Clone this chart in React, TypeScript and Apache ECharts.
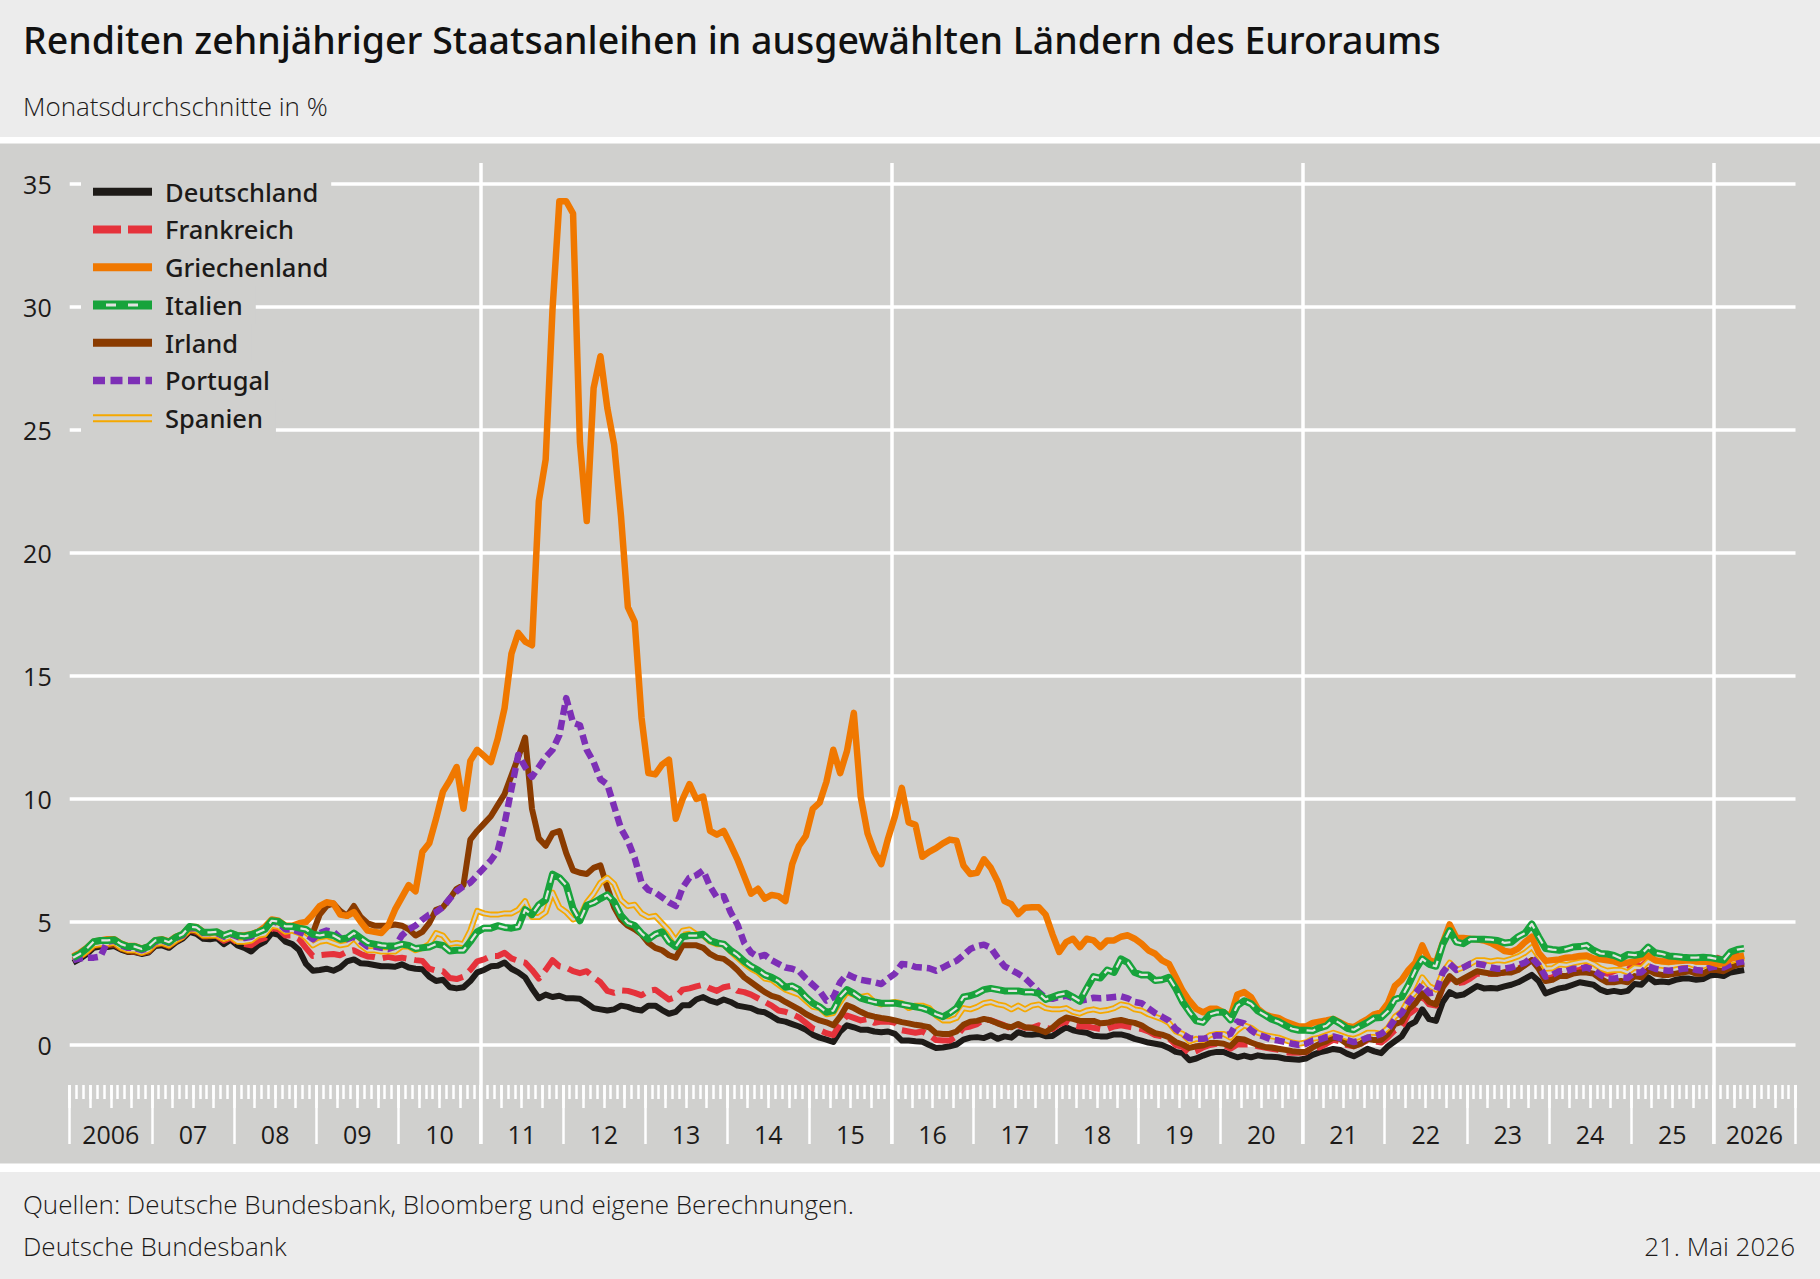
import React, { useEffect, useRef } from 'react';
import * as echarts from 'echarts';

// ---------------- DATA (monthly averages, Jan 2006 – May 2026, in %) ----------------
const yTicks = [0, 5, 10, 15, 20, 25, 30, 35];
const yearLabels = ['2006', '07', '08', '09', '10', '11', '12', '13', '14', '15', '16', '17', '18', '19', '20', '21', '22', '23', '24', '25', '2026'];
const legendNames = ['Deutschland', 'Frankreich', 'Griechenland', 'Italien', 'Irland', 'Portugal', 'Spanien'];

const deutschland = [
  3.35, 3.50, 3.70, 3.95, 4.00, 3.98, 4.02, 3.88, 3.78, 3.78, 3.70, 3.76,
  4.02, 4.05, 3.95, 4.17, 4.32, 4.60, 4.52, 4.32, 4.30, 4.35, 4.10, 4.28,
  4.05, 3.95, 3.80, 4.05, 4.20, 4.55, 4.48, 4.20, 4.10, 3.86, 3.30, 3.02,
  3.05, 3.10, 3.02, 3.15, 3.40, 3.48, 3.32, 3.30, 3.25, 3.20, 3.20, 3.18,
  3.28, 3.15, 3.10, 3.08, 2.78, 2.60, 2.65, 2.35, 2.30, 2.35, 2.60, 2.95,
  3.05, 3.20, 3.22, 3.35, 3.10, 2.95, 2.75, 2.30, 1.90, 2.05, 1.95, 2.00,
  1.90, 1.90, 1.88, 1.70, 1.50, 1.45, 1.40, 1.45, 1.60, 1.55, 1.45, 1.40,
  1.60, 1.60, 1.42, 1.27, 1.35, 1.62, 1.62, 1.85, 1.95, 1.80, 1.72, 1.85,
  1.75, 1.60, 1.55, 1.50, 1.37, 1.33, 1.17, 1.00, 0.95, 0.85, 0.75, 0.62,
  0.42, 0.30, 0.22, 0.12, 0.55, 0.80, 0.72, 0.62, 0.62, 0.55, 0.52, 0.55,
  0.45, 0.18, 0.18, 0.15, 0.13, 0.00, -0.12, -0.10, -0.05, 0.02, 0.22, 0.30,
  0.32, 0.28, 0.40, 0.25, 0.35, 0.30, 0.52, 0.43, 0.42, 0.45, 0.36, 0.37,
  0.55, 0.72, 0.60, 0.54, 0.50, 0.38, 0.35, 0.35, 0.43, 0.43, 0.36, 0.25,
  0.18, 0.10, 0.05, 0.00, -0.12, -0.28, -0.33, -0.62, -0.55, -0.43, -0.33, -0.28,
  -0.28, -0.40, -0.50, -0.43, -0.50, -0.42, -0.47, -0.48, -0.50, -0.56, -0.58, -0.60,
  -0.55, -0.40, -0.30, -0.24, -0.16, -0.20, -0.35, -0.46, -0.32, -0.15, -0.26, -0.33,
  -0.05, 0.15, 0.35, 0.80, 0.95, 1.45, 1.05, 0.98, 1.75, 2.15, 2.00, 2.05,
  2.22, 2.40, 2.30, 2.32, 2.30, 2.38, 2.45, 2.55, 2.70, 2.85, 2.60, 2.10,
  2.20, 2.30, 2.35, 2.45, 2.55, 2.50, 2.45, 2.25, 2.15, 2.20, 2.15, 2.20,
  2.48, 2.45, 2.75, 2.55, 2.58, 2.55, 2.65, 2.70, 2.70, 2.65, 2.68, 2.82,
  2.85, 2.80, 2.95, 3.00, 3.05,
];

const frankreich = [
  3.45, 3.58, 3.78, 4.02, 4.06, 4.05, 4.10, 3.92, 3.80, 3.80, 3.74, 3.80,
  4.08, 4.12, 4.02, 4.22, 4.38, 4.66, 4.60, 4.42, 4.42, 4.42, 4.24, 4.36,
  4.15, 4.10, 4.05, 4.25, 4.35, 4.75, 4.70, 4.45, 4.45, 4.30, 3.95, 3.62,
  3.65, 3.68, 3.70, 3.65, 3.80, 3.85, 3.70, 3.60, 3.58, 3.52, 3.58, 3.52,
  3.55, 3.50, 3.45, 3.42, 3.10, 3.02, 3.00, 2.72, 2.68, 2.78, 3.05, 3.40,
  3.48, 3.62, 3.62, 3.75, 3.52, 3.42, 3.35, 3.05, 2.70, 3.05, 3.45, 3.20,
  3.15, 3.00, 2.92, 3.00, 2.75, 2.55, 2.20, 2.12, 2.22, 2.20, 2.12, 2.02,
  2.20, 2.25, 2.05, 1.85, 1.95, 2.25, 2.30, 2.38, 2.45, 2.30, 2.20, 2.35,
  2.40, 2.20, 2.15, 2.05, 1.90, 1.75, 1.60, 1.40, 1.35, 1.25, 1.12, 0.90,
  0.68, 0.60, 0.48, 0.40, 0.85, 1.20, 1.10, 1.00, 1.05, 0.90, 0.95, 0.95,
  0.90, 0.60, 0.55, 0.50, 0.55, 0.40, 0.20, 0.18, 0.18, 0.35, 0.70, 0.75,
  0.85, 1.05, 1.00, 0.90, 0.80, 0.65, 0.80, 0.70, 0.70, 0.80, 0.70, 0.65,
  0.85, 0.95, 0.80, 0.75, 0.75, 0.70, 0.65, 0.65, 0.75, 0.80, 0.75, 0.70,
  0.65, 0.55, 0.40, 0.35, 0.28, 0.00, -0.08, -0.35, -0.25, -0.10, 0.00, 0.05,
  0.00, -0.15, 0.02, 0.02, 0.02, -0.05, -0.10, -0.15, -0.20, -0.30, -0.32, -0.32,
  -0.30, -0.10, -0.10, 0.05, 0.22, 0.15, 0.00, -0.05, 0.05, 0.20, 0.15, 0.10,
  0.32, 0.60, 0.75, 1.25, 1.45, 2.00, 1.65, 1.60, 2.35, 2.70, 2.50, 2.55,
  2.70, 2.90, 2.90, 2.90, 2.90, 2.95, 3.05, 3.10, 3.25, 3.45, 3.20, 2.70,
  2.75, 2.90, 2.85, 3.00, 3.05, 3.20, 3.20, 2.95, 2.90, 3.00, 3.10, 3.05,
  3.30, 3.20, 3.45, 3.30, 3.25, 3.25, 3.35, 3.40, 3.50, 3.40, 3.45, 3.55,
  3.55, 3.45, 3.55, 3.65, 3.65,
];

const griechenland = [
  3.60, 3.75, 3.95, 4.20, 4.25, 4.30, 4.30, 4.12, 4.02, 4.02, 3.92, 4.00,
  4.25, 4.30, 4.20, 4.40, 4.50, 4.80, 4.80, 4.60, 4.55, 4.60, 4.45, 4.55,
  4.45, 4.45, 4.50, 4.60, 4.80, 5.10, 5.05, 4.85, 4.85, 4.95, 5.00, 5.30,
  5.65, 5.80, 5.75, 5.30, 5.25, 5.40, 5.00, 4.65, 4.60, 4.55, 4.85, 5.50,
  6.00, 6.50, 6.25, 7.85, 8.20, 9.20, 10.30, 10.75, 11.30, 9.60, 11.55, 12.00,
  11.75, 11.50, 12.45, 13.70, 15.90, 16.75, 16.40, 16.25, 22.10, 23.80, 29.90, 34.30,
  34.30, 33.80, 24.50, 21.30, 26.70, 28.00, 25.90, 24.40, 21.50, 17.80, 17.20, 13.30,
  11.05, 11.00, 11.40, 11.60, 9.20, 10.00, 10.60, 10.00, 10.10, 8.70, 8.55, 8.70,
  8.15, 7.55, 6.85, 6.15, 6.35, 5.95, 6.10, 6.05, 5.85, 7.35, 8.10, 8.50,
  9.60, 9.85, 10.70, 12.00, 11.05, 11.95, 13.50, 10.10, 8.60, 7.85, 7.35, 8.40,
  9.30, 10.45, 9.05, 8.95, 7.65, 7.85, 8.00, 8.20, 8.35, 8.30, 7.30, 6.95,
  7.00, 7.55, 7.20, 6.65, 5.85, 5.72, 5.32, 5.58, 5.60, 5.60, 5.30, 4.50,
  3.78, 4.18, 4.32, 3.98, 4.32, 4.25, 3.98, 4.25, 4.25, 4.40, 4.46, 4.32,
  4.12, 3.85, 3.71, 3.44, 3.30, 2.76, 2.21, 1.80, 1.47, 1.33, 1.47, 1.47,
  1.33, 1.15, 2.05, 2.15, 1.95, 1.47, 1.25, 1.15, 1.10, 0.95, 0.85, 0.75,
  0.75, 0.90, 0.95, 1.00, 1.06, 0.92, 0.78, 0.72, 0.90, 1.05, 1.25, 1.33,
  1.70, 2.40, 2.65, 3.05, 3.35, 4.05, 3.45, 3.35, 4.15, 4.90, 4.35, 4.35,
  4.32, 4.30, 4.25, 4.15, 4.00, 3.82, 3.78, 3.92, 4.18, 4.40, 3.75, 3.42,
  3.45, 3.48, 3.55, 3.57, 3.62, 3.64, 3.52, 3.48, 3.44, 3.40, 3.30, 3.35,
  3.40, 3.55, 3.64, 3.45, 3.40, 3.38, 3.40, 3.42, 3.44, 3.40, 3.38, 3.38,
  3.30, 3.32, 3.50, 3.58, 3.64,
];

const italien = [
  3.55, 3.70, 3.92, 4.20, 4.25, 4.25, 4.28, 4.10, 4.00, 4.00, 3.90, 4.00,
  4.25, 4.28, 4.18, 4.38, 4.50, 4.82, 4.78, 4.58, 4.58, 4.60, 4.45, 4.55,
  4.45, 4.42, 4.48, 4.58, 4.70, 5.05, 5.02, 4.82, 4.82, 4.75, 4.70, 4.50,
  4.45, 4.50, 4.45, 4.30, 4.35, 4.55, 4.35, 4.15, 4.10, 4.05, 4.02, 4.02,
  4.10, 4.05, 3.92, 3.95, 3.98, 4.10, 4.05, 3.82, 3.85, 3.85, 4.20, 4.60,
  4.75, 4.75, 4.85, 4.78, 4.75, 4.80, 5.50, 5.30, 5.70, 5.90, 6.95, 6.80,
  6.50, 5.55, 5.05, 5.68, 5.78, 5.95, 6.10, 5.82, 5.27, 4.96, 4.86, 4.54,
  4.30, 4.50, 4.60, 4.20, 4.00, 4.40, 4.45, 4.45, 4.50, 4.25, 4.15, 4.10,
  3.85, 3.65, 3.40, 3.20, 3.05, 2.85, 2.75, 2.60, 2.35, 2.40, 2.25, 1.95,
  1.70, 1.55, 1.33, 1.40, 1.95, 2.25, 2.10, 1.90, 1.82, 1.75, 1.70, 1.70,
  1.70, 1.65, 1.60, 1.55, 1.50, 1.40, 1.25, 1.15, 1.30, 1.50, 1.95, 2.00,
  2.10, 2.25, 2.30, 2.25, 2.20, 2.20, 2.20, 2.15, 2.15, 2.10, 1.85, 1.95,
  2.05, 2.10, 1.95, 1.78, 2.30, 2.78, 2.72, 3.05, 2.95, 3.50, 3.35, 2.95,
  2.85, 2.85, 2.62, 2.65, 2.75, 2.30, 1.75, 1.35, 0.98, 0.92, 1.25, 1.33,
  1.33, 1.02, 1.60, 1.80, 1.68, 1.38, 1.22, 1.05, 0.95, 0.80, 0.66, 0.60,
  0.60, 0.58, 0.70, 0.78, 1.04, 0.88, 0.68, 0.62, 0.78, 0.92, 1.10, 1.12,
  1.38, 1.85, 1.95, 2.45, 3.05, 3.50, 3.28, 3.20, 4.10, 4.65, 4.18, 4.12,
  4.30, 4.30, 4.30, 4.28, 4.25, 4.15, 4.18, 4.40, 4.55, 4.92, 4.40, 3.92,
  3.88, 3.85, 3.90, 3.98, 4.00, 4.05, 3.85, 3.72, 3.70, 3.64, 3.52, 3.68,
  3.65, 3.70, 3.98, 3.75, 3.70, 3.62, 3.60, 3.57, 3.55, 3.55, 3.57, 3.55,
  3.50, 3.45, 3.78, 3.88, 3.92,
];

const irland = [
  3.45, 3.58, 3.78, 4.02, 4.06, 4.05, 4.10, 3.92, 3.80, 3.80, 3.74, 3.80,
  4.06, 4.12, 4.02, 4.22, 4.38, 4.66, 4.62, 4.42, 4.42, 4.45, 4.30, 4.42,
  4.25, 4.25, 4.30, 4.48, 4.58, 4.95, 4.90, 4.70, 4.80, 4.75, 4.65, 4.55,
  5.30, 5.65, 5.75, 5.45, 5.25, 5.65, 5.20, 4.95, 4.85, 4.85, 4.85, 4.90,
  4.85, 4.70, 4.45, 4.60, 4.95, 5.50, 5.60, 5.95, 6.35, 6.50, 8.35, 8.70,
  9.00, 9.30, 9.75, 10.20, 10.95, 11.70, 12.50, 9.60, 8.40, 8.10, 8.60, 8.70,
  7.80, 7.10, 7.00, 6.95, 7.20, 7.30, 6.40, 5.60, 5.10, 4.85, 4.70, 4.50,
  4.15, 3.95, 3.85, 3.65, 3.55, 4.05, 4.05, 4.05, 3.95, 3.70, 3.55, 3.50,
  3.30, 3.05, 2.75, 2.55, 2.35, 2.15, 2.00, 1.92, 1.75, 1.60, 1.45, 1.26,
  1.12, 1.00, 0.92, 0.80, 1.15, 1.62, 1.50, 1.35, 1.22, 1.15, 1.10, 1.06,
  1.00, 0.93, 0.88, 0.82, 0.78, 0.72, 0.48, 0.45, 0.45, 0.55, 0.82, 0.95,
  0.98, 1.06, 1.00, 0.88, 0.78, 0.72, 0.85, 0.72, 0.70, 0.62, 0.52, 0.70,
  0.95, 1.12, 1.06, 0.98, 0.98, 0.98, 0.88, 0.90, 0.98, 1.02, 0.95, 0.90,
  0.80, 0.62, 0.48, 0.42, 0.32, 0.12, 0.02, -0.12, -0.05, -0.02, 0.08, 0.08,
  0.05, -0.05, 0.25, 0.22, 0.10, 0.00, -0.08, -0.10, -0.15, -0.20, -0.25, -0.28,
  -0.28, -0.10, 0.05, 0.15, 0.30, 0.25, 0.05, -0.05, 0.05, 0.25, 0.20, 0.20,
  0.45, 0.85, 0.95, 1.45, 1.70, 2.10, 1.75, 1.65, 2.35, 2.80, 2.55, 2.70,
  2.85, 3.00, 2.95, 2.90, 2.90, 2.95, 2.95, 3.05, 3.25, 3.45, 3.10, 2.60,
  2.65, 2.80, 2.80, 2.90, 2.95, 2.95, 2.90, 2.70, 2.55, 2.55, 2.60, 2.55,
  2.80, 2.75, 3.05, 2.90, 2.85, 2.85, 2.90, 2.95, 3.00, 2.90, 2.90, 3.05,
  3.05, 3.00, 3.15, 3.25, 3.30,
];

const portugal = [
  3.45, 3.52, 3.55, 3.55, 3.60, 4.20, 4.25, 4.05, 3.95, 3.95, 3.85, 3.95,
  4.20, 4.25, 4.15, 4.35, 4.45, 4.75, 4.75, 4.55, 4.55, 4.55, 4.40, 4.50,
  4.40, 4.35, 4.40, 4.60, 4.70, 5.05, 4.95, 4.70, 4.70, 4.60, 4.50, 4.30,
  4.55, 4.65, 4.60, 4.35, 4.30, 4.40, 4.20, 4.00, 4.00, 3.95, 3.90, 4.00,
  4.45, 4.70, 4.85, 5.10, 5.30, 5.40, 5.60, 5.95, 6.25, 6.45, 6.60, 6.90,
  7.20, 7.50, 7.90, 9.00, 10.40, 11.80, 11.30, 10.90, 11.30, 11.70, 12.00, 12.60,
  14.10, 13.10, 13.00, 12.00, 11.50, 10.80, 10.60, 9.70, 8.80, 8.30, 7.60, 6.60,
  6.30, 6.20, 6.00, 5.80, 5.65, 6.40, 6.80, 6.90, 7.10, 6.45, 6.00, 6.05,
  5.40, 4.90, 4.15, 3.76, 3.58, 3.66, 3.45, 3.30, 3.15, 3.10, 3.00, 2.70,
  2.45, 2.20, 1.80, 1.94, 2.55, 2.88, 2.75, 2.65, 2.60, 2.55, 2.48, 2.70,
  2.90, 3.29, 3.27, 3.17, 3.15, 3.12, 3.02, 3.15, 3.30, 3.42, 3.65, 3.90,
  4.02, 4.08, 3.95, 3.55, 3.20, 3.05, 2.90, 2.72, 2.45, 2.15, 1.92, 1.88,
  1.95, 2.00, 1.90, 1.80, 1.85, 1.92, 1.90, 1.92, 1.95, 1.98, 1.90, 1.75,
  1.70, 1.50, 1.30, 1.15, 0.99, 0.65, 0.45, 0.28, 0.25, 0.25, 0.32, 0.40,
  0.38, 0.45, 0.95, 0.88, 0.60, 0.42, 0.33, 0.22, 0.18, 0.12, 0.05, 0.00,
  0.05, 0.18, 0.22, 0.32, 0.35, 0.28, 0.20, 0.12, 0.18, 0.30, 0.35, 0.45,
  0.65, 1.05, 1.30, 1.75, 2.10, 2.45, 2.10, 2.15, 2.95, 3.30, 3.05, 3.15,
  3.30, 3.30, 3.25, 3.15, 3.10, 3.10, 3.15, 3.25, 3.35, 3.55, 3.25, 2.78,
  2.85, 3.00, 3.00, 3.10, 3.10, 3.15, 3.05, 2.85, 2.70, 2.70, 2.75, 2.72,
  2.95, 2.95, 3.20, 3.10, 3.05, 3.02, 3.05, 3.10, 3.12, 3.05, 3.02, 3.15,
  3.20, 3.15, 3.28, 3.35, 3.40,
];

const spanien = [
  3.45, 3.60, 3.80, 4.05, 4.10, 4.10, 4.15, 3.95, 3.85, 3.85, 3.75, 3.85,
  4.10, 4.15, 4.05, 4.25, 4.40, 4.70, 4.65, 4.45, 4.45, 4.45, 4.30, 4.40,
  4.20, 4.20, 4.25, 4.45, 4.50, 4.85, 4.80, 4.60, 4.65, 4.55, 4.35, 4.05,
  4.20, 4.25, 4.15, 4.05, 4.10, 4.35, 4.05, 3.85, 3.85, 3.80, 3.80, 3.80,
  4.00, 4.00, 3.85, 3.95, 4.10, 4.55, 4.45, 4.10, 4.15, 4.10, 4.65, 5.45,
  5.35, 5.30, 5.30, 5.35, 5.35, 5.50, 5.85, 5.20, 5.20, 5.40, 6.20, 5.60,
  5.40, 5.10, 5.20, 5.80, 6.15, 6.60, 6.80, 6.55, 5.90, 5.65, 5.70, 5.35,
  5.20, 5.25, 4.95, 4.65, 4.25, 4.65, 4.70, 4.50, 4.45, 4.20, 4.10, 4.10,
  3.80, 3.55, 3.30, 3.10, 2.95, 2.70, 2.65, 2.45, 2.25, 2.15, 2.05, 1.80,
  1.55, 1.50, 1.25, 1.30, 1.75, 2.15, 2.05, 1.95, 2.00, 1.75, 1.65, 1.70,
  1.75, 1.70, 1.50, 1.60, 1.60, 1.50, 1.20, 1.00, 1.00, 1.10, 1.50, 1.45,
  1.55, 1.70, 1.75, 1.65, 1.60, 1.45, 1.60, 1.45, 1.60, 1.65, 1.50, 1.45,
  1.45, 1.50, 1.35, 1.28, 1.40, 1.45, 1.38, 1.42, 1.50, 1.65, 1.60, 1.45,
  1.40, 1.25, 1.15, 1.05, 0.90, 0.55, 0.45, 0.15, 0.25, 0.20, 0.40, 0.45,
  0.45, 0.30, 0.60, 0.80, 0.70, 0.50, 0.40, 0.35, 0.30, 0.20, 0.10, 0.05,
  0.10, 0.25, 0.30, 0.40, 0.50, 0.40, 0.30, 0.25, 0.35, 0.50, 0.50, 0.45,
  0.70, 1.15, 1.35, 1.85, 2.15, 2.75, 2.40, 2.25, 2.95, 3.35, 3.05, 3.15,
  3.30, 3.45, 3.45, 3.40, 3.45, 3.42, 3.50, 3.60, 3.75, 3.98, 3.60, 3.10,
  3.12, 3.28, 3.25, 3.32, 3.38, 3.42, 3.30, 3.12, 3.02, 3.05, 3.05, 2.95,
  3.15, 3.12, 3.40, 3.25, 3.22, 3.18, 3.25, 3.30, 3.30, 3.20, 3.20, 3.30,
  3.28, 3.25, 3.40, 3.48, 3.55,
];

// ---------------- STYLE ----------------
const FONT = '"Open Sans", "Noto Sans", sans-serif';
const FONT_MED = '"Noto Sans", "Open Sans", sans-serif';
const PANEL = '#d0d0ce';
const HEAD = '#ececec';
const TXT = '#1c1a19';
const COL = {
  de: '#1e1b18',
  fr: '#e5323b',
  gr: '#f07800',
  it: '#17a33b',
  itInner: '#e2e2e0',
  ie: '#8a3b00',
  pt: '#7d2fb6',
  es: '#f5a800',
};

const GRID_LEFT = 69.7;
const GRID_WIDTH = 1725.8;
const MONTHS_SPAN = 252;

const toPoints = (arr: number[]) => arr.map((v, i) => [i + 0.5, v]);

function lineSeries(name: string, data: number[], color: string, width: number, dash: any, z: number) {
  return {
    name,
    type: 'line',
    data: toPoints(data),
    xAxisIndex: 0,
    yAxisIndex: 0,
    showSymbol: false,
    symbol: 'none',
    clip: false,
    silent: true,
    z,
    lineStyle: { color, width, type: dash, join: 'round', cap: 'butt' },
  };
}

function legendIcon(i: number, cy: number): any[] {
  const x1 = 93;
  const x2 = 152;
  const ln = (stroke: string, lineWidth: number, lineDash?: number[], a = x1, b = x2) => ({
    type: 'line',
    shape: { x1: a, y1: cy, x2: b, y2: cy },
    style: { stroke, lineWidth, lineDash: lineDash || null },
  });
  switch (i) {
    case 0: return [ln(COL.de, 8)];
    case 1: return [ln(COL.fr, 8, [28, 7])];
    case 2: return [ln(COL.gr, 8)];
    case 3: return [ln(COL.it, 9), ln(COL.itInner, 3, [10, 12], 106, 138)];
    case 4: return [ln(COL.ie, 8)];
    case 5: return [ln(COL.pt, 7.5, [12, 5.5])];
    default: return [ln(COL.es, 8), ln(PANEL, 4)];
  }
}

export default function App() {
  const ref = useRef<HTMLDivElement>(null);

  useEffect(() => {
    document.body.style.margin = '0';
    if (!ref.current) return;
    const chart = echarts.init(ref.current, undefined, { renderer: 'svg' });

    const legendGraphics = legendNames.map((name, i) => {
      const cy = 191.7 + 37.75 * i;
      return {
        type: 'group',
        z: 20,
        children: [
          { type: 'rect', z: 20, shape: { x: 81, y: cy - 18, width: 86, height: 36 }, style: { fill: PANEL } },
          ...legendIcon(i, cy).map((e) => ({ ...e, z: 21 })),
          {
            type: 'text',
            z: 21,
            x: 165,
            y: cy,
            style: {
              text: name,
              font: `500 25.5px ${FONT_MED}`,
              fill: TXT,
              verticalAlign: 'middle',
              align: 'left',
              backgroundColor: PANEL,
              padding: [6, 13, 6, 0],
            },
          },
        ],
      };
    });

    const tickAxis = (interval: number, length: number) => ({
      gridIndex: 0,
      type: 'value',
      min: 0,
      max: MONTHS_SPAN,
      interval,
      position: 'bottom',
      offset: 40,
      axisLine: { show: false },
      axisTick: { show: true, length, lineStyle: { color: '#ffffff', width: 2.5 } },
      axisLabel: { show: false },
      splitLine: { show: false },
    });

    const option: any = {
      animation: false,
      backgroundColor: PANEL,
      textStyle: { fontFamily: FONT },
      grid: [
        { left: GRID_LEFT, top: 184, width: GRID_WIDTH, height: 861 },
        { left: GRID_LEFT, top: 163, width: GRID_WIDTH, height: 981 },
      ],
      xAxis: [
        {
          gridIndex: 0, type: 'value', min: 0, max: MONTHS_SPAN,
          axisLine: { show: false }, axisTick: { show: false }, axisLabel: { show: false }, splitLine: { show: false },
        },
        tickAxis(1, 14),
        tickAxis(3, 23),
        tickAxis(12, 59),
        {
          gridIndex: 0, type: 'value', min: 0, max: MONTHS_SPAN, interval: 12,
          position: 'bottom', offset: 40,
          axisLine: { show: false }, axisTick: { show: false }, splitLine: { show: false },
          axisLabel: {
            show: true,
            customValues: yearLabels.map((_, i) => 6 + 12 * i),
            formatter: (v: number) => yearLabels[Math.round((v - 6) / 12)] ?? '',
            fontSize: 25,
            color: TXT,
            fontFamily: FONT,
            margin: 36,
          },
        },
        {
          gridIndex: 1, type: 'value', min: 0, max: MONTHS_SPAN, interval: 60,
          axisLine: { show: false }, axisTick: { show: false }, axisLabel: { show: false },
          splitLine: { show: true, showMinLine: false, showMaxLine: false, lineStyle: { color: '#ffffff', width: 3.5 } },
        },
      ],
      yAxis: [
        {
          gridIndex: 0, type: 'value', min: yTicks[0], max: yTicks[yTicks.length - 1], interval: 5,
          axisLine: { show: false }, axisTick: { show: false },
          axisLabel: { fontSize: 25, color: TXT, fontFamily: FONT, margin: 18 },
          splitLine: { show: true, lineStyle: { color: '#ffffff', width: 3.5 } },
        },
        { gridIndex: 1, type: 'value', min: 0, max: 1, show: false },
      ],
      series: [
        lineSeries('Deutschland', deutschland, COL.de, 6, 'solid', 3),
        lineSeries('Frankreich', frankreich, COL.fr, 6, [24, 8], 4),
        lineSeries('Irland', irland, COL.ie, 6, 'solid', 5),
        lineSeries('Spanien', spanien, COL.es, 6, 'solid', 6),
        lineSeries('Spanien ', spanien, PANEL, 2.4, 'solid', 7),
        lineSeries('Portugal', portugal, COL.pt, 6.5, [10, 5], 8),
        lineSeries('Griechenland', griechenland, COL.gr, 6.5, 'solid', 9),
        lineSeries('Italien', italien, COL.it, 7, 'solid', 10),
        lineSeries('Italien ', italien, COL.itInner, 2.2, [9, 8], 11),
      ],
      graphic: {
        elements: [
          { type: 'rect', z: 1, shape: { x: 0, y: 0, width: 1820, height: 137 }, style: { fill: HEAD } },
          { type: 'rect', z: 1, shape: { x: 0, y: 137, width: 1820, height: 6.5 }, style: { fill: '#ffffff' } },
          { type: 'rect', z: 1, shape: { x: 0, y: 1163.5, width: 1820, height: 8.5 }, style: { fill: '#ffffff' } },
          { type: 'rect', z: 1, shape: { x: 0, y: 1172, width: 1820, height: 107 }, style: { fill: HEAD } },
          {
            type: 'text', z: 2, x: 23, y: 39,
            style: { text: 'Renditen zehnjähriger Staatsanleihen in ausgewählten Ländern des Euroraums', font: `500 37.5px ${FONT_MED}`, fill: '#111111', verticalAlign: 'middle' },
          },
          {
            type: 'text', z: 2, x: 23, y: 106,
            style: { text: 'Monatsdurchschnitte in %', font: `300 26px ${FONT}`, fill: TXT, verticalAlign: 'middle' },
          },
          {
            type: 'text', z: 2, x: 23, y: 1204,
            style: { text: 'Quellen: Deutsche Bundesbank, Bloomberg und eigene Berechnungen.', font: `300 26px ${FONT}`, fill: TXT, verticalAlign: 'middle' },
          },
          {
            type: 'text', z: 2, x: 23, y: 1246,
            style: { text: 'Deutsche Bundesbank', font: `300 26px ${FONT}`, fill: TXT, verticalAlign: 'middle' },
          },
          {
            type: 'text', z: 2, x: 1795, y: 1246,
            style: { text: '21. Mai 2026', font: `300 26px ${FONT}`, fill: TXT, verticalAlign: 'middle', align: 'right' },
          },
          ...legendGraphics,
        ],
      },
    };

    chart.setOption(option);
    return () => chart.dispose();
  }, []);

  return <div ref={ref} style={{ width: 1820, height: 1279 }} />;
}
